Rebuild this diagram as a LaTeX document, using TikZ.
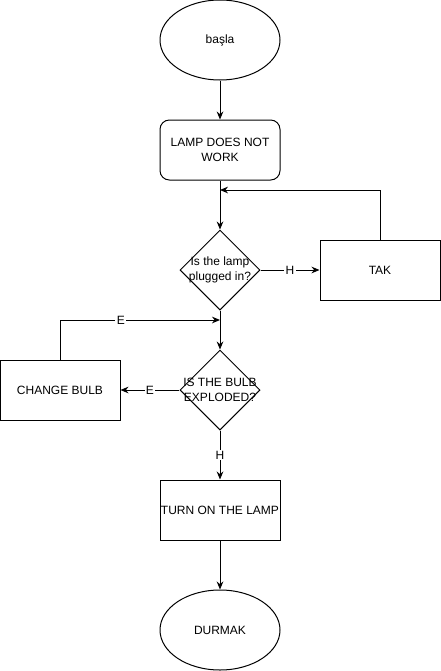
\documentclass[tikz,border=0pt]{standalone}
\usepackage{fontspec}
\setmainfont{Liberation Sans}
\usetikzlibrary{shapes.geometric,arrows.meta}

\begin{document}
\begin{tikzpicture}[x=0.75pt,y=-0.75pt,line width=0.75pt,
every node/.style={font=\fontsize{9}{11}\selectfont},
oval/.style={ellipse,draw,minimum width=90pt,minimum height=60pt,inner sep=0pt},
box/.style={rectangle,draw,minimum width=90pt,minimum height=45pt,align=center,inner sep=0pt},
rbox/.style={box,rounded corners=7pt},
ask/.style={diamond,draw,minimum width=60pt,minimum height=60pt,inner sep=0pt},
line/.style={draw,-{Stealth[length=6pt,width=5pt]}},
tag/.style={fill=white,inner sep=1pt}]
\useasboundingbox (0,0) rectangle (441,671);
\node [oval] (start) at (220,40) {başla};
\node [rbox] (lamp) at (220,150) {LAMP DOES NOT\\WORK};
\node [ask,label={[align=center]center:Is the lamp\\plugged in?}] (plug) at (220,270) {};
\node [box] (tak) at (380,270) {TAK};
\node [ask,label={[align=center]center:IS THE BULB\\EXPLODED?}] (bulb) at (220,390) {};
\node [box] (change) at (60,390) {CHANGE BULB};
\node [box] (turn) at (220,510) {TURN ON THE LAMP};
\node [oval] (stop) at (220,630) {DURMAK};
\coordinate (back1) at (220,190);
\coordinate (back2) at (220,320);
\draw [line] (start) -- (lamp);
\draw [line] (lamp) -- (plug);
\draw [line] (tak.north) |- (back1);
\draw [line] (plug) -- node [tag] {H} (tak);
\draw [line] (plug) -- (bulb);
\draw [line] (bulb) -- node [tag] {E} (change);
\draw [line] (change.north) |- node [tag,pos=0.69] {E} (back2);
\draw [line] (bulb) -- node [tag] {H} (turn);
\draw [line] (turn) -- (stop);
\end{tikzpicture}
\end{document}
